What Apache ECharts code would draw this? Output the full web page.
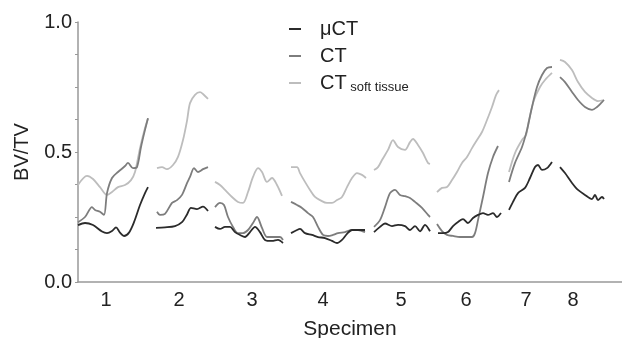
<!DOCTYPE html>
<html>
<head>
<meta charset="utf-8">
<script src="https://cdn.jsdelivr.net/npm/echarts@6/dist/echarts.min.js"></script>
<style>
  html, body { margin: 0; padding: 0; background: #fff; }
  #main { width: 622px; height: 338px; }
</style>
</head>
<body>
<div id="main"></div>
<script>
// specimen labels and where they sit along the x axis
const specimenLabels = ['1', '2', '3', '4', '5', '6', '7', '8'];
const specimenPos = [28, 101, 174, 245, 323, 388, 448, 495];
const yTicks = [0, 0.5, 1];

// BV/TV profiles, one array of [position, value] per specimen
const muCT = [
  [[0,0.219],[7,0.227],[15,0.219],[24,0.194],[29,0.188],[34,0.196],[38,0.21],[42,0.19],[46,0.177],[51,0.19],[56,0.23],[62,0.296],[67,0.342],[70,0.365]],
  [[78,0.208],[87,0.21],[97,0.215],[104,0.23],[109,0.26],[113,0.285],[119,0.28],[125,0.29],[130,0.273]],
  [[137,0.212],[142,0.204],[147,0.212],[152,0.212],[157,0.192],[162,0.181],[167,0.173],[172,0.192],[177,0.212],[182,0.192],[187,0.162],[194,0.158],[200,0.162],[205,0.15]],
  [[213,0.188],[219,0.2],[222,0.204],[227,0.188],[234,0.181],[240,0.173],[247,0.169],[254,0.158],[259,0.15],[264,0.162],[269,0.185],[274,0.2],[280,0.2],[287,0.2]],
  [[296,0.192],[302,0.212],[307,0.225],[314,0.215],[320,0.22],[327,0.215],[332,0.2],[337,0.215],[342,0.195],[347,0.22],[352,0.195]],
  [[360,0.188],[365,0.188],[370,0.192],[375,0.215],[380,0.231],[385,0.242],[390,0.227],[395,0.246],[400,0.258],[405,0.265],[410,0.258],[415,0.265],[419,0.25],[423,0.265]],
  [[431,0.277],[435,0.308],[440,0.342],[447,0.362],[452,0.4],[457,0.442],[460,0.45],[464,0.431],[469,0.438],[474,0.462]],
  [[482,0.442],[487,0.419],[494,0.381],[500,0.354],[507,0.335],[514,0.319],[517,0.335],[520,0.315],[524,0.327],[526,0.319]]
];
const ct = [
  [[0,0.23],[7,0.25],[14,0.288],[17,0.277],[22,0.27],[26,0.258],[29,0.342],[34,0.4],[40,0.423],[47,0.446],[50,0.458],[55,0.438],[59,0.442],[63,0.519],[67,0.585],[70,0.63]],
  [[79,0.27],[82,0.258],[87,0.262],[94,0.304],[99,0.315],[104,0.335],[109,0.38],[112,0.404],[116,0.438],[120,0.423],[125,0.434],[130,0.442]],
  [[137,0.288],[142,0.304],[146,0.296],[150,0.25],[155,0.212],[160,0.188],[165,0.188],[170,0.2],[175,0.227],[179,0.25],[184,0.208],[189,0.173],[195,0.173],[202,0.173],[205,0.162]],
  [[213,0.308],[219,0.296],[224,0.285],[230,0.265],[235,0.25],[240,0.212],[245,0.181],[250,0.177],[255,0.181],[260,0.188],[267,0.192],[274,0.2],[280,0.2],[287,0.192]],
  [[296,0.212],[302,0.238],[307,0.288],[312,0.342],[317,0.354],[322,0.335],[327,0.33],[332,0.323],[337,0.308],[344,0.285],[350,0.258],[352,0.25]],
  [[359,0.223],[364,0.196],[369,0.181],[375,0.177],[382,0.173],[389,0.173],[394,0.173],[397,0.188],[400,0.238],[405,0.327],[410,0.419],[415,0.481],[420,0.523]],
  [[431,0.385],[437,0.458],[444,0.519],[449,0.585],[454,0.673],[459,0.75],[464,0.796],[469,0.823],[474,0.827]],
  [[482,0.788],[487,0.769],[494,0.731],[500,0.7],[507,0.673],[514,0.662],[519,0.673],[524,0.692],[526,0.7]]
];
const ctSoft = [
  [[0,0.373],[9,0.408],[15,0.396],[22,0.365],[29,0.335],[34,0.346],[40,0.365],[47,0.373],[53,0.392],[57,0.423],[62,0.515],[67,0.592],[70,0.63]],
  [[79,0.438],[84,0.442],[89,0.434],[95,0.45],[100,0.481],[105,0.546],[109,0.62],[112,0.688],[117,0.72],[122,0.73],[125,0.723],[130,0.704]],
  [[137,0.385],[142,0.373],[147,0.354],[154,0.327],[160,0.308],[165,0.304],[170,0.346],[175,0.404],[180,0.438],[184,0.423],[189,0.385],[194,0.4],[199,0.373],[204,0.331]],
  [[213,0.442],[219,0.442],[222,0.419],[227,0.385],[232,0.354],[237,0.327],[242,0.315],[249,0.304],[254,0.304],[259,0.315],[264,0.327],[269,0.365],[274,0.4],[279,0.419],[284,0.412],[288,0.4]],
  [[296,0.431],[300,0.442],[304,0.469],[310,0.508],[315,0.546],[320,0.519],[327,0.508],[332,0.538],[335,0.55],[340,0.527],[345,0.496],[350,0.458],[352,0.454]],
  [[359,0.346],[364,0.362],[369,0.365],[374,0.392],[379,0.423],[384,0.458],[389,0.481],[394,0.515],[399,0.546],[404,0.577],[409,0.623],[414,0.673],[418,0.719],[421,0.738]],
  [[431,0.423],[437,0.496],[444,0.546],[448,0.565],[451,0.623],[456,0.7],[462,0.75],[467,0.777],[474,0.804]],
  [[482,0.854],[487,0.846],[494,0.815],[500,0.769],[507,0.731],[514,0.708],[520,0.696],[526,0.7]]
];

const font = 'Liberation Sans, Arial, sans-serif';

// join the specimen pieces with an empty point so the line breaks between them
function joinSegments(segs) {
  const out = [];
  segs.forEach((seg, i) => {
    if (i > 0) out.push([seg[0][0] - 1, null]);
    seg.forEach(p => out.push(p));
  });
  return out;
}

function lineSeries(name, segs, color) {
  return {
    name: name,
    type: 'line',
    data: joinSegments(segs),
    showSymbol: false,
    connectNulls: false,
    smooth: 0.3,
    lineStyle: { color: color, width: 1.8 },
    itemStyle: { color: color }
  };
}

const chart = echarts.init(document.getElementById('main'));
chart.setOption({
  animation: false,
  textStyle: { fontFamily: font },
  grid: { left: 78, right: 0, top: 22, bottom: 56, outerBoundsMode: 'none' },
  legend: {
    orient: 'vertical',
    left: 284,
    top: 14,
    icon: 'rect',
    itemWidth: 12,
    itemHeight: 2,
    itemGap: 7,
    data: ['μCT', 'CT', 'CT soft tissue'],
    formatter: function (name) {
      return name === 'CT soft tissue' ? '{m|CT}{s| soft tissue}' : name;
    },
    textStyle: {
      fontFamily: font,
      fontSize: 20,
      color: '#222',
      padding: [0, 0, 0, 14],
      rich: {
        m: { fontFamily: font, fontSize: 20, color: '#222' },
        s: { fontFamily: font, fontSize: 13, color: '#222', padding: [8, 0, 0, 0] }
      }
    }
  },
  xAxis: {
    type: 'value',
    min: 0,
    max: 544,
    name: 'Specimen',
    nameLocation: 'middle',
    nameGap: 37,
    nameTextStyle: { fontFamily: font, fontSize: 21, color: '#222' },
    splitLine: { show: false },
    axisLine: { lineStyle: { color: '#999', width: 1.5 } },
    axisTick: { show: false },
    axisLabel: {
      customValues: specimenPos,
      formatter: function (v) {
        const i = specimenPos.indexOf(v);
        return i >= 0 ? specimenLabels[i] : '';
      },
      margin: 8,
      fontFamily: font,
      fontSize: 20,
      color: '#222'
    }
  },
  yAxis: {
    type: 'value',
    min: 0,
    max: 1,
    interval: 0.125,
    name: 'BV/TV',
    nameLocation: 'middle',
    nameGap: 46,
    nameTextStyle: { fontFamily: font, fontSize: 20, color: '#222' },
    splitLine: { show: false },
    axisLine: { show: true, lineStyle: { color: '#999', width: 1.5 } },
    axisTick: { show: true, length: 3, lineStyle: { color: '#999' } },
    axisLabel: {
      formatter: function (v) {
        return yTicks.indexOf(v) >= 0 ? v.toFixed(1) : '';
      },
      margin: 6,
      fontFamily: font,
      fontSize: 20,
      color: '#222'
    }
  },
  series: [
    lineSeries('CT soft tissue', ctSoft, '#bdbdbd'),
    lineSeries('CT', ct, '#7d7d7d'),
    lineSeries('μCT', muCT, '#2b2b2b')
  ]
});
</script>
</body>
</html>
